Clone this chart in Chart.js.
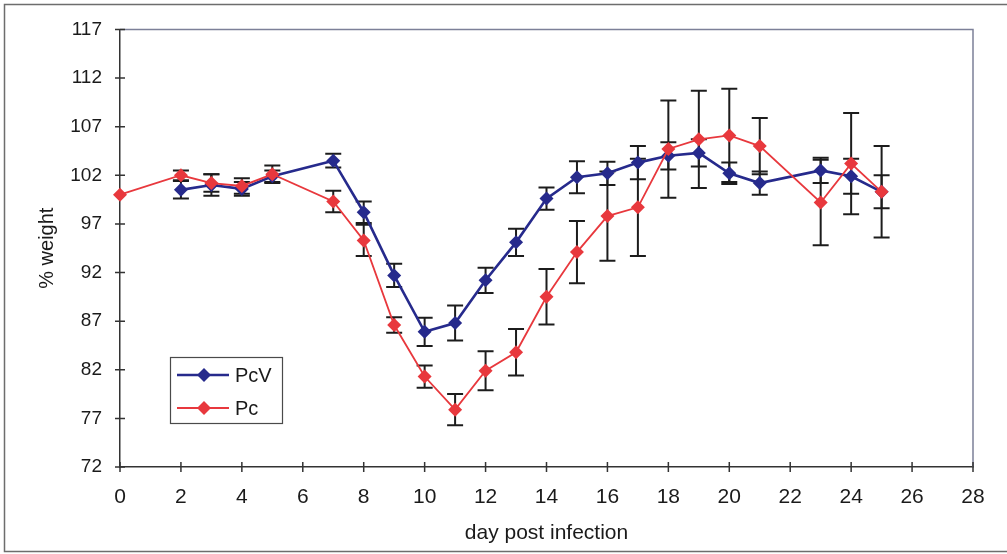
<!DOCTYPE html>
<html>
<head>
<meta charset="utf-8">
<script src="https://cdn.jsdelivr.net/npm/chart.js@4.4.1/dist/chart.umd.min.js"></script>
<style>
  html, body { margin: 0; padding: 0; background: #ffffff; }
  #wrap { width: 1007px; height: 554px; }
</style>
</head>
<body>
<div id="wrap"><canvas id="c" width="1007" height="554"></canvas></div>
<script>
// Days on which each group was weighed
const pcvDays = [2, 3, 4, 5, 7, 8, 9, 10, 11, 12, 13, 14, 15, 16, 17, 18, 19, 20, 21, 23, 24, 25];
const pcDays  = [0, 2, 3, 4, 5, 7, 8, 9, 10, 11, 12, 13, 14, 15, 16, 17, 18, 19, 20, 21, 23, 24, 25];

// Mean % of starting weight
const pcvWeight = [100.5, 101.0, 100.6, 101.9, 103.5, 98.2, 91.7, 85.9, 86.8, 91.2, 95.1, 99.6, 101.8, 102.2, 103.3, 104.0, 104.3, 102.2, 101.2, 102.5, 101.9, 100.3];
const pcWeight  = [100.0, 102.0, 101.2, 100.9, 102.1, 99.3, 95.3, 86.6, 81.3, 77.9, 81.9, 83.8, 89.5, 94.1, 97.8, 98.7, 104.7, 105.7, 106.1, 105.0, 99.2, 103.2, 100.3];

// Standard error of each mean
const pcvError = [0.9, 1.1, 0.7, 0.6, 0.7, 1.1, 1.2, 1.45, 1.8, 1.3, 1.4, 1.15, 1.65, 1.2, 1.7, 1.4, 1.4, 1.1, 1.2, 1.3, 1.8, 1.7];
const pcError  = [0, 0.5, 0.9, 0.8, 0.9, 1.1, 1.6, 0.8, 1.15, 1.6, 2.0, 2.4, 2.85, 3.2, 4.6, 5.0, 5.0, 5.0, 4.8, 2.9, 4.4, 5.2, 4.7];

const seriesNames = ['PcV', 'Pc'];
const xTickValues = [0, 2, 4, 6, 8, 10, 12, 14, 16, 18, 20, 22, 24, 26, 28];
const yTickValues = [72, 77, 82, 87, 92, 97, 102, 107, 112, 117];

const toPoints = (xs, ys) => xs.map((d, i) => ({ x: d, y: ys[i] }));

const BLUE = '#262a8c';
const RED = '#e8383d';
const FONT = "'Liberation Sans', Arial, sans-serif";

// white page with a grey frame round the whole figure
const framePlugin = {
  id: 'frame',
  beforeDraw(chart) {
    const { ctx, width, height } = chart;
    ctx.save();
    ctx.fillStyle = '#ffffff';
    ctx.fillRect(0, 0, width, height);
    ctx.strokeStyle = '#6d6d6d';
    ctx.lineWidth = 1.5;
    ctx.beginPath();
    ctx.moveTo(width + 5, 4.5);
    ctx.lineTo(4.5, 4.5);
    ctx.lineTo(4.5, 551.5);
    ctx.lineTo(width + 5, 551.5);
    ctx.stroke();
    ctx.restore();
  }
};

// top and right edges of the plot area, plus error bars behind the series
const errorBarPlugin = {
  id: 'errorBars',
  beforeDatasetsDraw(chart) {
    const { ctx, chartArea, scales: { x, y } } = chart;
    ctx.save();
    ctx.strokeStyle = '#7c8098';
    ctx.lineWidth = 1.5;
    ctx.beginPath();
    ctx.moveTo(chartArea.left, chartArea.top);
    ctx.lineTo(chartArea.right, chartArea.top);
    ctx.lineTo(chartArea.right, chartArea.bottom);
    ctx.stroke();

    ctx.strokeStyle = '#1c1c1c';
    ctx.lineWidth = 2;
    chart.data.datasets.forEach(ds => {
      ds.data.forEach((p, i) => {
        const e = ds.errors[i];
        if (!e) return;
        const px = x.getPixelForValue(p.x);
        const top = y.getPixelForValue(p.y + e);
        const bot = y.getPixelForValue(p.y - e);
        ctx.beginPath();
        ctx.moveTo(px, top); ctx.lineTo(px, bot);
        ctx.moveTo(px - 8, top); ctx.lineTo(px + 8, top);
        ctx.moveTo(px - 8, bot); ctx.lineTo(px + 8, bot);
        ctx.stroke();
      });
    });
    ctx.restore();
  },
  afterDraw(chart) {
    // tick marks crossing both axes
    const { ctx, chartArea, scales: { x, y } } = chart;
    ctx.save();
    ctx.strokeStyle = '#333333';
    ctx.lineWidth = 1.5;
    ctx.beginPath();
    x.ticks.forEach(t => {
      const px = x.getPixelForValue(t.value);
      ctx.moveTo(px, chartArea.bottom - 5);
      ctx.lineTo(px, chartArea.bottom + 5);
    });
    y.ticks.forEach(t => {
      const py = y.getPixelForValue(t.value);
      ctx.moveTo(chartArea.left - 5, py);
      ctx.lineTo(chartArea.left + 5, py);
    });
    ctx.stroke();
    ctx.restore();
  }
};

// boxed legend sitting inside the plot area
const boxLegendPlugin = {
  id: 'boxLegend',
  afterDatasetsDraw(chart) {
    const { ctx } = chart;
    const bx = 170, by = 357, bw = 112, bh = 66;
    ctx.save();
    ctx.fillStyle = '#ffffff';
    ctx.fillRect(bx, by, bw, bh);
    ctx.strokeStyle = '#4a4a4a';
    ctx.lineWidth = 1.2;
    ctx.strokeRect(bx + 0.5, by + 0.5, bw, bh);
    chart.data.datasets.forEach((ds, i) => {
      const cy = by + 18 + i * 33;
      ctx.strokeStyle = ds.borderColor;
      ctx.lineWidth = ds.borderWidth;
      ctx.beginPath();
      ctx.moveTo(bx + 7, cy);
      ctx.lineTo(bx + 59, cy);
      ctx.stroke();
      ctx.fillStyle = ds.pointBackgroundColor;
      ctx.beginPath();
      ctx.moveTo(bx + 34, cy - 7);
      ctx.lineTo(bx + 41, cy);
      ctx.lineTo(bx + 34, cy + 7);
      ctx.lineTo(bx + 27, cy);
      ctx.closePath();
      ctx.fill();
      ctx.fillStyle = '#1a1a1a';
      ctx.font = '20px ' + FONT;
      ctx.textBaseline = 'middle';
      ctx.textAlign = 'left';
      ctx.fillText(ds.label, bx + 65, cy + 1);
    });
    ctx.restore();
  }
};

new Chart(document.getElementById('c'), {
  type: 'line',
  data: {
    datasets: [
      {
        label: seriesNames[0],
        data: toPoints(pcvDays, pcvWeight),
        errors: pcvError,
        borderColor: BLUE,
        backgroundColor: BLUE,
        pointBackgroundColor: BLUE,
        pointBorderColor: BLUE,
        borderWidth: 2.6,
        pointStyle: 'rectRot',
        pointRadius: 7,
        pointBorderWidth: 0,
        tension: 0,
        clip: false,
        order: 2
      },
      {
        label: seriesNames[1],
        data: toPoints(pcDays, pcWeight),
        errors: pcError,
        borderColor: RED,
        backgroundColor: RED,
        pointBackgroundColor: RED,
        pointBorderColor: RED,
        borderWidth: 1.8,
        pointStyle: 'rectRot',
        pointRadius: 7,
        pointBorderWidth: 0,
        tension: 0,
        clip: false,
        order: 1
      }
    ]
  },
  options: {
    responsive: false,
    animation: false,
    devicePixelRatio: 1,
    layout: { padding: { left: 0, top: 28, right: 34, bottom: 0 } },
    plugins: {
      legend: { display: false },
      tooltip: { enabled: false }
    },
    scales: {
      x: {
        type: 'linear',
        min: 0,
        max: 28,
        afterBuildTicks(scale) { scale.ticks = xTickValues.map(v => ({ value: v })); },
        afterFit(scale) { scale.height = 87; },
        grid: { display: false, drawTicks: false },
        border: { display: true, color: '#333333', width: 1.5 },
        ticks: {
          padding: 18,
          color: '#1a1a1a',
          font: { family: FONT, size: 21 },
          maxRotation: 0
        },
        title: {
          display: true,
          text: 'day post infection',
          color: '#1a1a1a',
          font: { family: FONT, size: 21 },
          padding: { top: 0, bottom: 8 }
        }
      },
      y: {
        type: 'linear',
        min: 72,
        max: 117,
        afterBuildTicks(scale) { scale.ticks = yTickValues.map(v => ({ value: v })); },
        afterFit(scale) { scale.width = 120; },
        grid: { display: false, drawTicks: false },
        border: { display: true, color: '#333333', width: 1.5 },
        ticks: {
          padding: 18,
          color: '#1a1a1a',
          font: { family: FONT, size: 19 }
        },
        title: {
          display: true,
          text: '% weight',
          color: '#1a1a1a',
          font: { family: FONT, size: 20 },
          padding: { top: 35, bottom: 0 }
        }
      }
    }
  },
  plugins: [framePlugin, errorBarPlugin, boxLegendPlugin]
});
</script>
</body>
</html>
